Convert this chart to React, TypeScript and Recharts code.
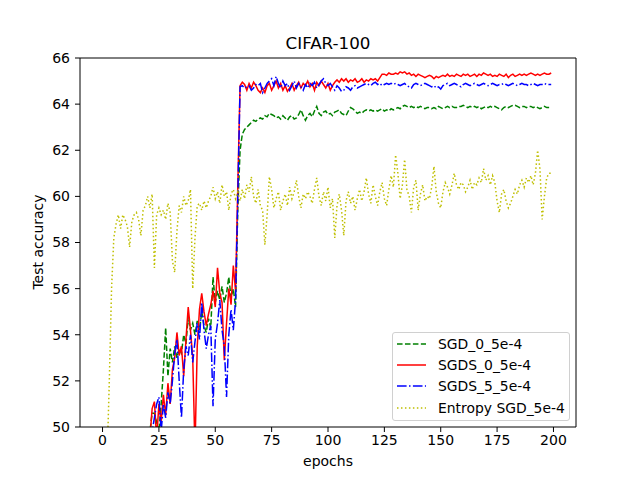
import React from 'react'
import { LineChart, Line, XAxis, YAxis, Legend, ReferenceLine } from 'recharts'

// epochs 0..199
const epochs = Array.from({ length: 200 }, (_, i) => i)

const sgd0: (number | null)[] = [
  null, null, null, null, null, null, null, null, null, null,
  null, null, null, null, null, null, null, null, null, null,
  47.5, 49.8, 50.6, 50.6, 50.2, 49.8, 51.0, 52.5, 54.3, 52.2,
  53.4, 52.8, 53.5, 53.0, 53.4, 53.2, 54.0, 53.6, 54.8, 54.2,
  54.5, 54.0, 54.6, 54.2, 55.0, 54.4, 54.1, 54.7, 54.3, 56.5,
  55.4, 55.9, 55.5, 56.1, 55.4, 55.8, 56.5, 55.6, 56.0, 55.2,
  59.5, 62.0, 62.7, 62.9, 63.0, 63.1, 63.2, 63.3, 63.25, 63.35,
  63.4, 63.35, 63.5, 63.45, 63.6, 63.55, 63.5, 63.4, 63.45, 63.35,
  63.5, 63.4, 63.3, 63.45, 63.5, 63.35, 63.4, 63.55, 63.75, 63.5,
  63.3, 63.5, 63.6, 63.45, 63.7, 63.9, 63.6, 63.5, 63.65, 63.7,
  63.55, 63.6, 63.5, 63.65, 63.7, 63.75, 63.6, 63.55, 63.5, 63.7,
  63.85, 63.8, 63.7, 63.6, 63.65, 63.6, 63.7, 63.75, 63.7, 63.75,
  63.7, 63.75, 63.7, 63.75, 63.8, 63.7, 63.75, 63.7, 63.8, 63.75,
  63.8, 63.85, 63.8, 63.9, 63.95, 63.9, 63.85, 63.9, 63.85, 63.9,
  63.85, 63.9, 63.85, 63.8, 63.85, 63.85, 63.8, 63.85, 63.8, 63.9,
  63.85, 63.8, 63.85, 63.9, 63.85, 63.9, 63.85, 63.85, 63.9, 63.9,
  63.95, 63.9, 63.85, 63.9, 63.85, 63.9, 63.85, 63.9, 63.8, 63.85,
  63.9, 63.85, 63.9, 63.85, 63.9, 63.85, 63.8, 63.75, 63.85, 63.9,
  63.85, 63.9, 63.95, 63.95, 63.9, 63.85, 63.9, 63.9, 63.85, 63.9,
  63.9, 63.85, 63.9, 63.85, 63.8, 63.85, 63.9, 63.85, 63.85, 63.85,
]

const sgds0: (number | null)[] = [
  null, null, null, null, null, null, null, null, null, null,
  null, null, null, null, null, null, null, null, null, null,
  47.0, 49.5, 50.8, 51.1, 49.5, 51.0, 50.2, 51.4, 50.5, 51.9,
  51.0, 52.5, 53.0, 54.1, 53.1, 53.5, 52.2, 53.8, 55.2, 54.2,
  53.0, 49.0, 53.5, 55.1, 55.8, 55.0, 54.4, 54.9, 55.3, 55.9,
  55.2, 56.9, 55.8, 55.4, 52.9, 54.5, 56.0, 55.3, 57.0, 55.9,
  60.5, 64.8, 64.95, 64.85, 64.6, 64.9, 64.7, 64.95, 64.8, 64.6,
  64.5, 64.7, 64.5, 64.8, 64.9, 64.6, 64.8, 65.0, 64.7, 64.9,
  64.6, 64.8, 64.55, 64.7, 64.9, 64.6, 64.8, 64.95, 64.7, 64.9,
  64.8, 65.0, 64.75, 64.9, 64.6, 64.95, 64.8, 65.0, 64.85, 64.7,
  64.9, 64.6, 64.8, 64.95, 65.05, 64.95, 65.1, 65.0, 65.1, 64.95,
  65.05, 65.0, 65.1, 64.95, 65.0, 65.1, 64.95, 65.05, 65.0, 65.1,
  65.05, 65.1, 65.0, 65.15, 65.3, 65.3, 65.25, 65.35, 65.3, 65.3,
  65.35, 65.3, 65.4, 65.35, 65.4, 65.3, 65.35, 65.25, 65.3, 65.2,
  65.3, 65.25, 65.2, 65.15, 65.2, 65.25, 65.2, 65.1, 65.2, 65.15,
  65.2, 65.25, 65.2, 65.3, 65.2, 65.25, 65.2, 65.3, 65.25, 65.2,
  65.3, 65.25, 65.3, 65.2, 65.25, 65.3, 65.2, 65.3, 65.25, 65.35,
  65.3, 65.25, 65.3, 65.2, 65.25, 65.2, 65.3, 65.25, 65.2, 65.3,
  65.15, 65.25, 65.3, 65.2, 65.25, 65.3, 65.25, 65.3, 65.25, 65.3,
  65.35, 65.3, 65.25, 65.3, 65.25, 65.3, 65.35, 65.3, 65.3, 65.35,
]

const sgds5: (number | null)[] = [
  null, null, null, null, null, null, null, null, null, null,
  null, null, null, null, null, null, null, null, null, null,
  46.0, 49.0, 49.8, 50.4, 51.0, 51.3, 49.8, 51.0, 50.4, 51.5,
  51.0, 52.0, 53.2, 53.8, 52.0, 50.4, 52.5, 53.5, 53.1, 54.0,
  52.8, 53.7, 54.5, 53.8, 55.4, 54.2, 53.4, 54.0, 54.4, 50.9,
  53.8, 54.5, 55.5, 54.2, 53.5, 51.3, 54.0, 55.1, 54.2, 55.5,
  60.0, 64.75, 64.8, 64.7, 64.75, 64.8, 64.6, 64.7, 64.85, 64.8,
  64.9, 64.5, 64.7, 64.9, 65.0, 65.1, 64.8, 65.2, 64.9, 64.7,
  65.0, 64.8, 64.9, 64.6, 64.8, 65.0, 64.7, 64.9, 64.75, 64.6,
  64.85, 64.7, 64.9, 64.8, 64.95, 64.7, 64.85, 65.0, 65.1, 64.9,
  64.8, 64.9, 64.75, 64.6, 64.8, 64.7, 64.55, 64.6, 64.75, 64.7,
  64.6, 64.75, 64.8, 64.7, 64.75, 64.8, 64.85, 64.9, 64.85, 64.8,
  64.9, 64.95, 64.85, 64.9, 64.8, 64.85, 64.9, 64.85, 64.9, 64.85,
  64.9, 64.85, 64.8, 64.85, 64.9, 64.8, 64.75, 64.7, 64.85, 64.9,
  64.85, 64.8, 64.85, 64.9, 64.85, 64.8, 64.75, 64.8, 64.7, 64.75,
  64.65, 64.8, 64.85, 64.9, 64.8, 64.85, 64.9, 64.85, 64.8, 64.75,
  64.85, 64.9, 64.85, 64.8, 64.85, 64.9, 64.85, 64.8, 64.85, 64.9,
  64.85, 64.8, 64.85, 64.9, 64.85, 64.8, 64.85, 64.85, 64.9, 64.85,
  64.8, 64.85, 64.9, 64.85, 64.8, 64.85, 64.9, 64.85, 64.85, 64.8,
  64.85, 64.9, 64.85, 64.8, 64.85, 64.85, 64.9, 64.85, 64.85, 64.85,
]

const entropySgd: number[] = [
  40.0, 44.0, 48.5, 52.0, 56.0, 58.2, 58.8, 59.2, 58.6, 59.2,
  59.0, 58.7, 57.8, 58.9, 59.2, 59.3, 59.0, 58.3, 59.4, 59.6,
  60.0, 59.5, 60.1, 56.9, 59.2, 59.5, 59.2, 59.4, 59.0, 59.7,
  59.3, 57.2, 56.7, 58.5, 59.6, 59.3, 60.0, 59.6, 59.8, 60.3,
  56.0, 58.2, 59.6, 59.7, 59.4, 59.8, 59.5, 59.8, 60.0, 60.4,
  59.9, 60.2, 59.7, 60.5, 60.0, 60.2, 59.4, 60.1, 60.3, 59.9,
  60.2, 59.8, 60.3, 59.9, 60.5, 60.2, 60.85, 60.0, 59.7, 60.3,
  59.6, 59.4, 57.9, 59.2, 60.85, 60.3, 59.5, 59.9, 60.2, 59.4,
  59.8, 60.1, 59.6, 60.4, 59.9, 60.2, 60.7, 60.0, 59.5, 60.1,
  59.9, 60.2, 60.0, 59.7, 60.3, 60.8, 60.0, 59.6, 60.2, 59.8,
  60.4, 59.5, 59.9, 58.2, 59.6, 60.1, 59.4, 58.3, 59.8, 60.2,
  59.7, 60.0, 59.4, 59.9, 60.3, 59.8, 60.2, 60.8, 60.1, 59.7,
  60.5, 60.0, 59.6, 60.2, 60.6, 59.9, 59.6, 60.3, 60.9, 60.4,
  61.8, 61.0, 59.9, 60.5, 61.6, 60.3, 60.0, 59.3, 60.4, 60.7,
  59.4, 60.1, 60.5, 59.8, 60.0, 59.9, 60.4, 61.3, 60.2, 59.7,
  59.5, 60.2, 60.6, 60.4, 60.1, 60.5, 61.0, 60.5, 60.3, 60.6,
  60.5, 60.2, 60.4, 60.7, 60.3, 60.6, 60.5, 60.8, 60.6, 61.2,
  60.7, 60.9, 60.5, 60.9, 60.6, 59.8, 59.3, 60.1, 60.3, 59.8,
  59.5, 59.7, 60.0, 60.3, 60.1, 60.5, 60.7, 60.4, 60.8, 60.6,
  60.9, 60.5, 61.0, 62.0, 61.2, 59.0, 60.0, 60.8, 61.0, 61.0,
]

const xTicks = [0, 25, 50, 75, 100, 125, 150, 175, 200]
const yTicks = [50, 52, 54, 56, 58, 60, 62, 64, 66]

const series = [
  { key: 'sgd0', name: 'SGD_0_5e-4', color: '#008000', dash: '5.55 2.4' },
  { key: 'sgds0', name: 'SGDS_0_5e-4', color: '#ff0000', dash: undefined },
  { key: 'sgds5', name: 'SGDS_5_5e-4', color: '#0000ff', dash: '9.6 2.4 1.5 2.4' },
  { key: 'entropy', name: 'Entropy SGD_5e-4', color: '#bfbf00', dash: '1.5 2.475' },
]

const data = epochs.map((e, i) => ({
  epoch: e,
  sgd0: sgd0[i],
  sgds0: sgds0[i],
  sgds5: sgds5[i],
  entropy: entropySgd[i],
}))

const FONT = '"DejaVu Sans", sans-serif'
const tickStyle = { fill: '#000', fontSize: 14, fontFamily: FONT }

function LegendBox() {
  return (
    <div
      style={{
        width: 178,
        height: 89,
        boxSizing: 'border-box',
        border: '1px solid #d0d0d0',
        borderRadius: 3,
        background: 'rgba(255,255,255,0.85)',
        paddingTop: 0,
        fontFamily: FONT,
        fontSize: 13.9,
        color: '#000',
      }}
    >
      {series.map(s => (
        <div key={s.key} style={{ display: 'flex', alignItems: 'center', height: 21.3, paddingLeft: 4 }}>
          <svg width={30} height={10} style={{ marginRight: 11 }}>
            <line x1={0} y1={5} x2={29} y2={5} stroke={s.color} strokeWidth={1.5} strokeDasharray={s.dash} />
          </svg>
          <span style={{ whiteSpace: 'nowrap' }}>{s.name}</span>
        </div>
      ))}
    </div>
  )
}

export default function App() {
  return (
    <div style={{ position: 'absolute', left: 0, top: 0, width: 640, height: 480, background: '#fff' }}>
      <LineChart width={640} height={480} data={data} margin={{ top: 58, right: 64, bottom: 0, left: 0 }}>
        <XAxis
          dataKey="epoch"
          type="number"
          domain={[-10, 210]}
          ticks={xTicks}
          interval={0}
          height={53}
          tickSize={5}
          tickMargin={3}
          tick={tickStyle}
          stroke="#000"
          axisLine={{ stroke: '#000' }}
          tickLine={{ stroke: '#000' }}
        />
        <YAxis
          type="number"
          domain={[50, 66]}
          ticks={yTicks}
          interval={0}
          allowDataOverflow
          width={80}
          tickSize={5}
          tickMargin={5}
          tick={tickStyle}
          axisLine={{ stroke: '#000' }}
          tickLine={{ stroke: '#000' }}
        />
        <ReferenceLine y={66} stroke="#000" strokeWidth={1} />
        <ReferenceLine x={210} stroke="#000" strokeWidth={1} />
        {series.map(s => (
          <Line
            key={s.key}
            type="linear"
            dataKey={s.key}
            name={s.name}
            stroke={s.color}
            strokeWidth={1.5}
            strokeDasharray={s.dash}
            dot={false}
            activeDot={false}
            isAnimationActive={false}
          />
        ))}
        <Legend
          layout="vertical"
          align="center"
          verticalAlign="middle"
          content={() => <LegendBox />}
          wrapperStyle={{ left: 392, top: 332, width: 178, height: 89 }}
        />
      </LineChart>
      <svg
        width={640}
        height={480}
        style={{ position: 'absolute', left: 0, top: 0, pointerEvents: 'none' }}
        fontFamily={FONT}
      >
        <text x={328} y={49} textAnchor="middle" fontSize={16.7} fill="#000">CIFAR-100</text>
        <text x={328} y={466} textAnchor="middle" fontSize={14} fill="#000">epochs</text>
        <text x={43} y={242} textAnchor="middle" fontSize={14} fill="#000" transform="rotate(-90 43 242)">
          Test accuracy
        </text>
      </svg>
    </div>
  )
}
